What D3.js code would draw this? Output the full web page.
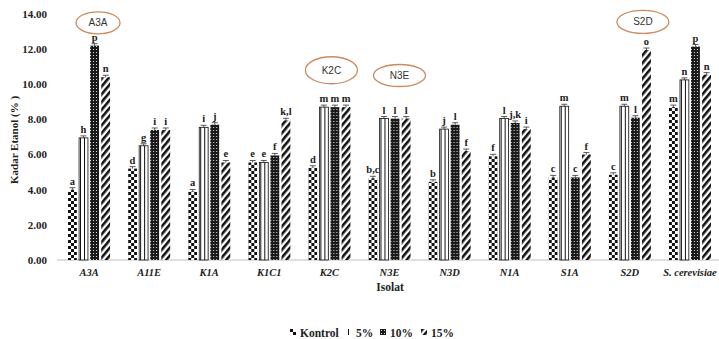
<!DOCTYPE html>
<html><head><meta charset="utf-8">
<script src="https://cdn.jsdelivr.net/npm/d3@7"></script>
<style>html,body{margin:0;padding:0;background:#fff;}svg{display:block;}</style>
</head><body>
<svg id="chart" width="719" height="339"></svg>
<script>
const categories = ["A3A","A11E","K1A","K1C1","K2C","N3E","N3D","N1A","S1A","S2D","S. cerevisiae"];
const seriesNames = ["Kontrol","5%","10%","15%"];
const kontrol = [4.0, 5.2, 3.9, 5.55, 5.25, 4.65, 4.45, 5.9, 4.7, 4.85, 8.7];
const p5      = [6.95, 6.5, 7.55, 5.55, 8.7, 8.05, 7.45, 8.05, 8.75, 8.75, 10.25];
const p10     = [12.2, 7.4, 7.7, 5.95, 8.7, 8.05, 7.7, 7.8, 4.7, 8.1, 12.15];
const p15     = [10.4, 7.4, 5.55, 7.95, 8.7, 8.05, 6.2, 7.45, 6.0, 11.95, 10.55];
const lettersKontrol = ["a","d","a","e","d","b,c","b","f","c","c","m"];
const letters5  = ["h","g","i","e","m","l","j","l","m","m","n"];
const letters10 = ["p","i","j","f","m","l","l","j,k","c","l","p"];
const letters15 = ["n","i","e","k,l","m","l","f","i","f","o","n"];
const yTicks = [0,2,4,6,8,10,12,14];
const highlights = ["A3A","K2C","N3E","S2D"];
const highlightLevels = [13.5, 10.8, 10.5, 13.55];

const values = [kontrol, p5, p10, p15];
const letters = [lettersKontrol, letters5, letters10, letters15];

const svg = d3.select("#chart");
const defs = svg.append("defs");

// patterns
const pk = defs.append("pattern").attr("id","pat0").attr("patternUnits","userSpaceOnUse").attr("width",6).attr("height",6);
pk.append("rect").attr("width",6).attr("height",6).attr("fill","#fff");
pk.append("rect").attr("width",3).attr("height",3).attr("fill","#111");
pk.append("rect").attr("x",3).attr("y",3).attr("width",3).attr("height",3).attr("fill","#111");

const p1 = defs.append("pattern").attr("id","pat1").attr("patternUnits","userSpaceOnUse").attr("width",4).attr("height",4);
p1.append("rect").attr("width",4).attr("height",4).attr("fill","#fff");
p1.append("rect").attr("x",0).attr("width",1).attr("height",4).attr("fill","#111");

const p2 = defs.append("pattern").attr("id","pat2").attr("patternUnits","userSpaceOnUse").attr("width",3).attr("height",3);
p2.append("rect").attr("width",3).attr("height",3).attr("fill","#1a1a1a");
p2.append("rect").attr("x",1).attr("y",1).attr("width",1).attr("height",1).attr("fill","#ddd");

const p3 = defs.append("pattern").attr("id","pat3").attr("patternUnits","userSpaceOnUse").attr("width",5).attr("height",5).attr("patternTransform","rotate(40)");
p3.append("rect").attr("width",5).attr("height",5).attr("fill","#fff");
p3.append("rect").attr("width",2.6).attr("height",5).attr("fill","#111");

const x0 = d3.scaleBand().domain(categories).range([59,720]).paddingInner(0.3).paddingOuter(0.15);
const x1 = d3.scaleBand().domain(d3.range(4)).range([0, x0.bandwidth()]).paddingInner(0.2);
const y = d3.scaleLinear().domain([0,14]).range([260,14]);

const serif = "'Liberation Serif','Times New Roman',serif";

// x axis line
svg.append("line").attr("x1",57).attr("x2",719).attr("y1",y(0)).attr("y2",y(0)).attr("stroke","#bdbdbd").attr("stroke-width",1);

// y tick labels
svg.append("g").selectAll("text").data(yTicks).join("text")
  .attr("x",47).attr("y",d=>y(d)).attr("dy","0.35em").attr("text-anchor","end")
  .attr("font-family",serif).attr("font-weight","bold").attr("font-size",11).attr("fill","#222")
  .text(d=>d.toFixed(2));

// bars
const groups = svg.append("g").selectAll("g").data(categories).join("g")
  .attr("transform",d=>`translate(${x0(d)},0)`);

groups.each(function(cat, ci){
  const g = d3.select(this);
  for (let s=0; s<4; s++){
    const v = values[s][ci];
    const bx = x1(s), bw = x1.bandwidth();
    g.append("rect").attr("x",bx).attr("y",y(v)).attr("width",bw).attr("height",y(0)-y(v))
      .attr("fill",`url(#pat${s})`)
      .attr("stroke", s===1 ? "#111" : "none").attr("stroke-width", s===1 ? 0.8 : 0);
    // small error cap
    g.append("line").attr("x1",bx+bw/2).attr("x2",bx+bw/2).attr("y1",y(v)).attr("y2",y(v)-2).attr("stroke","#333").attr("stroke-width",0.8);
    g.append("line").attr("x1",bx+bw/2-3).attr("x2",bx+bw/2+3).attr("y1",y(v)-2).attr("y2",y(v)-2).attr("stroke","#333").attr("stroke-width",0.8);
    g.append("text").attr("x",bx+bw/2).attr("y",y(v)-5).attr("text-anchor","middle")
      .attr("font-family",serif).attr("font-weight","bold").attr("font-size",10.5).attr("fill","#222")
      .text(letters[s][ci]);
  }
});

// x labels
svg.append("g").selectAll("text").data(categories).join("text")
  .attr("x",d=>x0(d)+x0.bandwidth()/2).attr("y",276).attr("text-anchor","middle")
  .attr("font-family",serif).attr("font-weight","bold").attr("font-style","italic").attr("font-size",10.5).attr("fill","#222")
  .text(d=>d);

// axis titles
svg.append("text").attr("x",390).attr("y",291).attr("text-anchor","middle")
  .attr("font-family",serif).attr("font-weight","bold").attr("font-size",11.5).attr("fill","#222").text("Isolat");
svg.append("text").attr("transform","translate(18,140) rotate(-90)").attr("text-anchor","middle")
  .attr("font-family",serif).attr("font-weight","bold").attr("font-size",11).attr("fill","#222").text("Kadar Etanol  (% )");

// highlight ellipses
const hl = svg.append("g").selectAll("g").data(highlights).join("g")
  .attr("transform",(d,i)=>{
    const off = [9,2,10,13][i];
    return `translate(${x0(d)+x0.bandwidth()/2+off},${y(highlightLevels[i])})`;
  });
hl.append("ellipse").attr("rx",(d,i)=>[22,26,26,26][i]).attr("ry",(d,i)=>[11,13.5,11,11.5][i])
  .attr("fill","none").attr("stroke","#cc8a5e").attr("stroke-width",1.3);
hl.append("text").attr("text-anchor","middle").attr("dy","0.35em")
  .attr("font-family","'Liberation Sans',Arial,sans-serif").attr("font-size",10).attr("fill","#333").text(d=>d);

// legend
const legX = [290, 348, 380, 421];
const legend = svg.append("g").selectAll("g").data(seriesNames).join("g")
  .attr("transform",(d,i)=>`translate(${legX[i]},329)`);
legend.append("rect").attr("x",0).attr("y",0).attr("width",(d,i)=>i===1?4:6).attr("height",6)
  .attr("fill",(d,i)=>`url(#pat${i})`);
legend.append("text").attr("x",(d,i)=>i===1?8:10).attr("y",8).attr("font-family",serif).attr("font-weight","bold")
  .attr("font-size",11.5).attr("fill","#222").text(d=>d);
</script>
</body></html>
